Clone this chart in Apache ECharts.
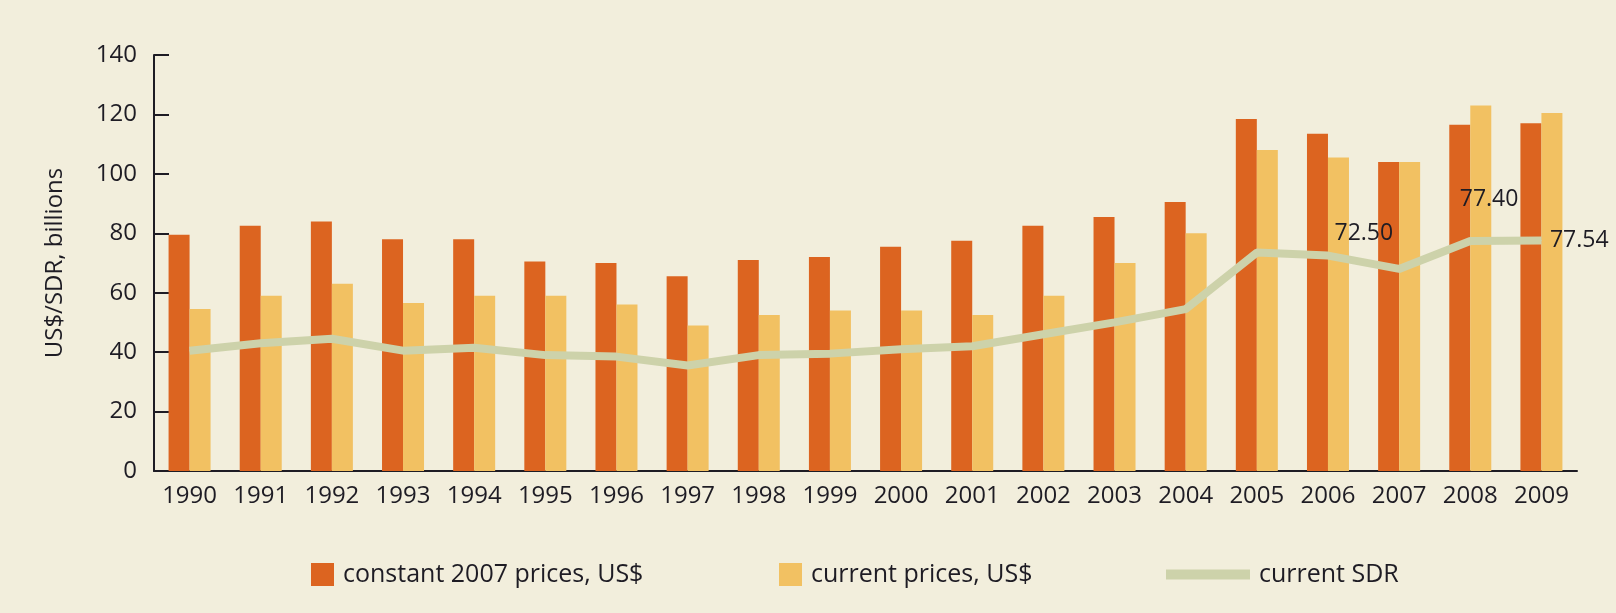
<!DOCTYPE html>
<html>
<head>
<meta charset="utf-8">
<script src="https://cdn.jsdelivr.net/npm/echarts@6/dist/echarts.min.js"></script>
<style>
  html, body { margin: 0; padding: 0; background: #f2eedc; }
  #chart { width: 1616px; height: 613px; }
</style>
</head>
<body>
<div id="chart"></div>
<script>
// ── data ─────────────────────────────────────────────
const years = ['1990', '1991', '1992', '1993', '1994', '1995', '1996', '1997', '1998', '1999',
               '2000', '2001', '2002', '2003', '2004', '2005', '2006', '2007', '2008', '2009']
const constantPrices = [79.5, 82.5, 84, 78, 78, 70.5, 70, 65.5, 71, 72,
                        75.5, 77.5, 82.5, 85.5, 90.5, 118.5, 113.5, 104, 116.5, 117]
const currentPrices  = [54.5, 59, 63, 56.5, 59, 59, 56, 49, 52.5, 54,
                        54, 52.5, 59, 70, 80, 108, 105.5, 104, 123, 120.5]
const currentSdr     = [40.5, 43, 44.5, 40.5, 41.5, 39, 38.5, 35.5, 39, 39.5,
                        41, 42, 46, 50, 54.5, 73.5, 72.5, 68, 77.4, 77.54]
const yTicks = [0, 20, 40, 60, 80, 100, 120, 140]

// which SDR points carry a value label, and where it sits
const sdrLabels = {
  16: { distance: 6,  offset: [0, -22] },
  18: { distance: 0,  offset: [-11, -42] },
  19: { distance: 8,  offset: [0, 0] },
}

const NAMES = ['constant 2007 prices, US$', 'current prices, US$', 'current SDR']
const COLOR_CONST = '#dc6420'
const COLOR_CURR  = '#f2c162'
const COLOR_SDR   = '#cdd2aa'
const INK  = '#1e1c24'
const FONT = '"Open Sans", "Noto Sans", sans-serif'

const sdrData = currentSdr.map((v, i) => {
  const l = sdrLabels[i]
  if (!l) return v
  return {
    value: v,
    label: {
      show: true, position: 'right', distance: l.distance, offset: l.offset,
      formatter: v.toFixed(2), color: INK, fontSize: 23, fontFamily: FONT,
    },
  }
})

const legendBase = (name, left, w, h) => ({
  data: [name], left, top: 557,
  itemWidth: w, itemHeight: h, itemGap: 0,
  icon: 'rect',
  textStyle: { color: INK, fontSize: 25, fontFamily: FONT, padding: [0, 0, 0, 4] },
})

const chart = echarts.init(document.getElementById('chart'))
chart.setOption({
  backgroundColor: '#f2eedc',
  animation: false,
  textStyle: { fontFamily: FONT },
  legend: [
    legendBase(NAMES[0], 306, 23, 23),
    legendBase(NAMES[1], 774, 23, 23),
    legendBase(NAMES[2], 1161, 84, 10),
  ],
  grid: { left: 154, right: 39, top: 55, bottom: 142 },
  xAxis: {
    type: 'category', data: years,
    axisLine:  { lineStyle: { color: INK, width: 2 } },
    axisTick:  { inside: true, length: 15, interval: 0, lineStyle: { color: INK, width: 2 } },
    axisLabel: { color: INK, fontSize: 24, fontFamily: FONT, margin: 13, interval: 0 },
  },
  yAxis: {
    type: 'value', min: yTicks[0], max: yTicks[yTicks.length - 1], interval: 20,
    name: 'US$/SDR, billions', nameLocation: 'middle', nameGap: 87,
    nameTextStyle: { color: INK, fontSize: 24, fontFamily: FONT },
    axisLine:  { show: true, lineStyle: { color: INK, width: 2 } },
    axisTick:  { show: true, inside: true, length: 15, lineStyle: { color: INK, width: 2 } },
    splitLine: { show: false },
    axisLabel: { color: INK, fontSize: 24, fontFamily: FONT, margin: 17 },
  },
  series: [
    { name: NAMES[0], type: 'bar', data: constantPrices, barWidth: 21, barGap: '0%',
      itemStyle: { color: COLOR_CONST } },
    { name: NAMES[1], type: 'bar', data: currentPrices, barWidth: 21, barGap: '0%',
      itemStyle: { color: COLOR_CURR } },
    { name: NAMES[2], type: 'line', data: sdrData, symbol: 'circle', symbolSize: 1,
      lineStyle: { color: COLOR_SDR, width: 8 }, itemStyle: { color: COLOR_SDR },
      z: 5 },
  ],
})
</script>
</body>
</html>
